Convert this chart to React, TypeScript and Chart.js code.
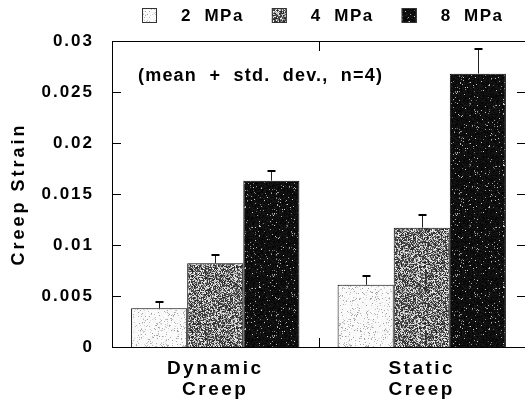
import React, { useEffect, useRef } from "react";
import { Chart, registerables } from "chart.js";

Chart.register(...registerables);

const categories = [["Dynamic", "Creep"], ["Static", "Creep"]];
const seriesLabels = ["2  MPa", "4  MPa", "8  MPa"];
const mean2 = [0.0038, 0.0061];
const mean4 = [0.0082, 0.0117];
const mean8 = [0.0163, 0.0268];
const sd2 = [0.00066, 0.0009];
const sd4 = [0.0008, 0.0012];
const sd8 = [0.001, 0.0024];
const yTicks = [0, 0.005, 0.01, 0.015, 0.02, 0.025, 0.03];
const yTitle = "Creep Strain";
const note = "(mean  +  std.  dev.,  n=4)";

const FONT = '"Liberation Sans", Arial, Helvetica, sans-serif';

function noisePattern(kind: number): CanvasPattern | string {
  const size = 61;
  const c = document.createElement("canvas");
  c.width = size;
  c.height = size;
  const g = c.getContext("2d");
  if (!g) return "#888";
  const img = g.createImageData(size, size);
  let s = 12345 + kind * 7771;
  const rnd = () => {
    s = (Math.imul(s, 1664525) + 1013904223) >>> 0;
    return s / 4294967296;
  };
  for (let i = 0; i < size * size; i++) {
    const r = rnd();
    const r2 = rnd();
    let v: number;
    if (kind === 0) v = r < 0.12 ? 150 + r2 * 70 : 244 + r2 * 11;
    else if (kind === 1) v = r < 0.56 ? 30 + r2 * 70 : 150 + r2 * 100;
    else v = r < 0.05 ? 90 + r2 * 120 : 3 + r2 * 22;
    img.data[i * 4] = v;
    img.data[i * 4 + 1] = v;
    img.data[i * 4 + 2] = v;
    img.data[i * 4 + 3] = 255;
  }
  g.putImageData(img, 0, 0);
  return g.createPattern(c, "repeat") || "#888";
}

function wrapSpacing(scale: any, name: string, sp: string) {
  const key = "__wrapped_" + name;
  if (scale[key]) return;
  const orig = scale[name];
  scale[name] = function (...args: any[]) {
    const ctx = this.ctx;
    ctx.save();
    ctx.letterSpacing = sp;
    orig.apply(this, args);
    ctx.restore();
  };
  scale[key] = true;
}

const framePlugin = {
  id: "frame",
  afterLayout(chart: any) {
    wrapSpacing(chart.scales.x, "drawLabels", "2.5px");
    wrapSpacing(chart.scales.y, "drawLabels", "2px");
    wrapSpacing(chart.scales.y, "drawTitle", "3px");
  },
  afterDatasetsDraw(chart: any) {
    const ctx = chart.ctx;
    const y = chart.scales.y;
    ctx.save();
    chart.data.datasets.forEach((ds: any, i: number) => {
      const meta = chart.getDatasetMeta(i);
      meta.data.forEach((bar: any, j: number) => {
        const v = ds.data[j];
        const e = ds.errors[j];
        const xp = Math.round(bar.x) + 0.5;
        const yTop = y.getPixelForValue(v + e);
        const yBase = y.getPixelForValue(v);
        ctx.strokeStyle = "#222";
        ctx.lineWidth = 1;
        ctx.beginPath();
        ctx.moveTo(xp, yBase);
        ctx.lineTo(xp, yTop);
        ctx.stroke();
        ctx.strokeStyle = "#000";
        ctx.lineWidth = 2;
        ctx.beginPath();
        ctx.moveTo(xp - 4, Math.round(yTop));
        ctx.lineTo(xp + 4, Math.round(yTop));
        ctx.stroke();
      });
    });
    ctx.restore();
  },
  afterDraw(chart: any) {
    const ctx = chart.ctx;
    const { left, right, top, bottom } = chart.chartArea;
    const x = chart.scales.x;
    const y = chart.scales.y;
    ctx.save();
    ctx.strokeStyle = "#000";
    ctx.lineWidth = 1;
    // top border
    const ty = Math.round(top) + 0.5;
    ctx.beginPath();
    ctx.moveTo(left, ty);
    ctx.lineTo(right, ty);
    ctx.stroke();
    // inward y ticks on both sides
    y.ticks.forEach((t: any) => {
      const py = Math.round(y.getPixelForValue(t.value)) + 0.5;
      ctx.beginPath();
      ctx.moveTo(left, py);
      ctx.lineTo(left + 9, py);
      ctx.moveTo(right - 8, py);
      ctx.lineTo(right, py);
      ctx.stroke();
    });
    // category separator ticks
    for (let i = 0; i < categories.length - 1; i++) {
      const px = Math.round((x.getPixelForValue(i) + x.getPixelForValue(i + 1)) / 2) + 0.5;
      ctx.beginPath();
      ctx.moveTo(px, bottom);
      ctx.lineTo(px, bottom - 9);
      ctx.moveTo(px, top);
      ctx.lineTo(px, top + 10);
      ctx.stroke();
    }
    // annotation
    ctx.fillStyle = "#000";
    ctx.letterSpacing = "1.2px";
    ctx.font = `bold 18px ${FONT}`;
    ctx.textBaseline = "middle";
    ctx.textAlign = "left";
    ctx.fillText(note, left + 26, top + 35);
    // legend
    ctx.letterSpacing = "1.5px";
    ctx.font = `bold 17px ${FONT}`;
    let lx = left + 30;
    const ly = 8;
    const box = 15;
    chart.data.datasets.forEach((ds: any) => {
      ctx.fillStyle = ds.backgroundColor;
      ctx.fillRect(lx, ly, box, box);
      ctx.strokeStyle = "#333";
      ctx.lineWidth = 1;
      ctx.strokeRect(lx + 0.5, ly + 0.5, box - 1, box - 1);
      const tx = lx + box + 24;
      ctx.fillStyle = "#000";
      ctx.fillText(ds.label, tx, ly + box / 2 + 1);
      lx = tx + ctx.measureText(ds.label).width + 28;
    });
    ctx.restore();
  },
};

export default function App() {
  const ref = useRef<HTMLCanvasElement | null>(null);
  useEffect(() => {
    if (!ref.current) return;
    const pats = [noisePattern(0), noisePattern(1), noisePattern(2)];
    const means = [mean2, mean4, mean8];
    const sds = [sd2, sd4, sd8];
    const chart = new Chart(ref.current, {
      type: "bar",
      data: {
        labels: categories,
        datasets: seriesLabels.map((lab, i) => ({
          label: lab,
          data: means[i],
          errors: sds[i],
          backgroundColor: pats[i],
          borderColor: "#000",
          borderWidth: 1,
        })) as any,
      },
      options: {
        animation: false,
        responsive: false,
        devicePixelRatio: 1,
        layout: { padding: { top: 41, left: 0, right: 0, bottom: 0 } },
        plugins: { legend: { display: false }, tooltip: { enabled: false } },
        datasets: { bar: { categoryPercentage: 0.815, barPercentage: 1 } },
        scales: {
          x: {
            type: "category",
            grid: { display: false },
            border: { display: true, color: "#000", width: 1 },
            ticks: {
              color: "#000",
              font: { family: FONT, size: 19, weight: "bold", lineHeight: 1.12 },
              padding: 3,
              maxRotation: 0,
              autoSkip: false,
            },
            afterFit: (s: any) => {
              s.height = 60;
            },
          },
          y: {
            type: "linear",
            min: 0,
            max: 0.03,
            grid: { display: false },
            border: { display: true, color: "#000", width: 1 },
            afterBuildTicks: (s: any) => {
              s.ticks = yTicks.map((v) => ({ value: v }));
            },
            ticks: {
              color: "#000",
              font: { family: FONT, size: 17, weight: "bold" },
              padding: 10,
              callback: (v: any) => String(v),
            },
            afterFit: (s: any) => {
              s.width = 112;
            },
            title: {
              display: true,
              text: yTitle,
              color: "#000",
              font: { family: FONT, size: 18, weight: "bold" },
              padding: { top: 8, bottom: 0 },
            },
          },
        },
      } as any,
      plugins: [framePlugin],
    });
    return () => chart.destroy();
  }, []);
  return (
    <div style={{ position: "absolute", left: 0, top: 0, width: 525, height: 407, background: "#fff" }}>
      <canvas ref={ref} width={525} height={407} style={{ display: "block", width: 525, height: 407 }} />
    </div>
  );
}
